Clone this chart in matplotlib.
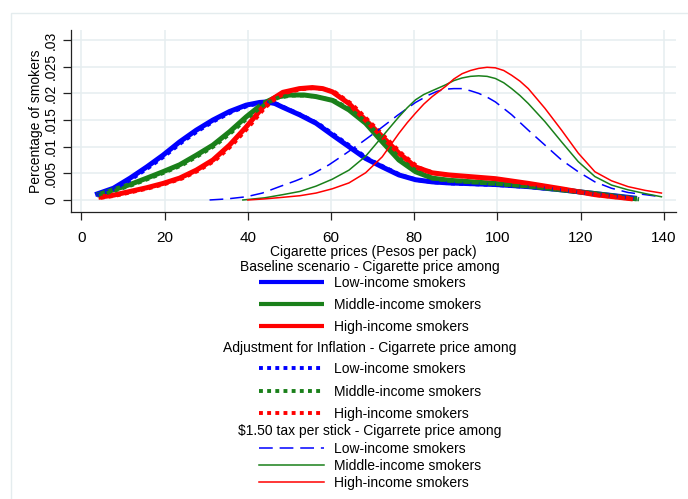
import matplotlib.pyplot as plt
from matplotlib.lines import Line2D
from matplotlib.patches import Rectangle

plt.rcParams["font.family"] = ["Liberation Sans", "DejaVu Sans"]

BLUE = "#0000ff"
GREEN = "#1a801a"
RED = "#ff0000"

# Baseline scenario
base_low_x = [3.3, 7.7, 11.7, 15.7, 19.6, 23.6, 27.6, 31.6, 35.6, 39.6, 42.8, 44.6, 46.5,
              48.4, 52.4, 56.4, 60.3, 64.3, 68.3, 72.3, 76.3, 80.3, 84.3, 88.3, 99.5,
              107.5, 115.4, 123.4, 131.4, 133.5]
base_low_y = [0.0010, 0.0022, 0.0041, 0.0062, 0.0084, 0.0109, 0.0131, 0.0150, 0.0166,
              0.0178, 0.0183, 0.0184, 0.0181, 0.0174, 0.0160, 0.0144, 0.0122, 0.0100,
              0.0078, 0.0062, 0.0047, 0.0038, 0.0034, 0.0032, 0.0029, 0.0025, 0.0019,
              0.0012, 0.0005, 0.0003]
base_mid_x = [3.7, 7.7, 11.7, 15.7, 19.6, 23.6, 27.6, 31.6, 35.6, 39.6, 43.6, 46.8, 50,
              53.5, 56.4, 60.3, 64.3, 68.3, 72.3, 76.3, 80.3, 84.3, 88.3, 99.5, 107.5,
              115.4, 123.4, 131.4, 133.5]
base_mid_y = [0.0009, 0.0019, 0.0029, 0.0041, 0.0053, 0.0066, 0.0084, 0.0103, 0.0128,
              0.0156, 0.0181, 0.0193, 0.0197, 0.0197, 0.0194, 0.0187, 0.0169, 0.0144,
              0.0109, 0.0075, 0.0053, 0.0041, 0.0037, 0.0031, 0.0026, 0.0019, 0.0012,
              0.0004, 0.0002]
base_high_x = [4.1, 7.7, 11.7, 15.7, 19.6, 23.6, 27.6, 31.6, 35.6, 39.6, 43.6, 46, 48.4,
               52.4, 55.5, 58, 60.3, 64.3, 68.3, 72.3, 76.3, 80.3, 84.3, 88.3, 99.5,
               107.5, 115.4, 123.4, 131.4, 132.5]
base_high_y = [0.0005, 0.0009, 0.0016, 0.0023, 0.0031, 0.0041, 0.0056, 0.0075, 0.0103,
               0.0137, 0.0174, 0.0190, 0.0202, 0.0209, 0.0211, 0.0209, 0.0203, 0.0181,
               0.0150, 0.0119, 0.0088, 0.0062, 0.0051, 0.0047, 0.0040, 0.0031, 0.0021,
               0.0010, 0.0003, 0.0002]

# Adjustment for inflation
infl_low_x = [3.8, 8.2, 12.2, 16.2, 20.1, 24.1, 28.1, 32.1, 36.1, 40.1, 43.3, 45.1, 47,
              49, 53, 57, 61, 65, 69, 73, 77, 81, 85, 89, 100, 108, 116, 124, 132, 134]
infl_low_y = [0.0009, 0.0021, 0.0040, 0.0061, 0.0083, 0.0108, 0.0130, 0.0149, 0.0165,
              0.0177, 0.0182, 0.0183, 0.0180, 0.0173, 0.0159, 0.0143, 0.0121, 0.0099,
              0.0077, 0.0061, 0.0046, 0.0037, 0.0033, 0.0031, 0.0028, 0.0024, 0.0018,
              0.0011, 0.0004, 0.0002]
infl_mid_x = [4.2, 8.2, 12.2, 16.2, 20.1, 24.1, 28.1, 32.1, 36.1, 40.1, 44.1, 47.3, 50.5,
              54, 57, 61, 65, 69, 73, 77, 81, 85, 89, 100, 108, 116, 124, 132, 134]
infl_mid_y = [0.0008, 0.0018, 0.0028, 0.0040, 0.0052, 0.0065, 0.0083, 0.0102, 0.0127,
              0.0155, 0.0180, 0.0192, 0.0196, 0.0196, 0.0193, 0.0186, 0.0168, 0.0143,
              0.0108, 0.0074, 0.0052, 0.0040, 0.0036, 0.0030, 0.0025, 0.0018, 0.0011,
              0.0003, 0.0001]
infl_high_x = [4.6, 8.2, 12.2, 16.2, 20.1, 24.1, 28.1, 32.1, 36.1, 40.1, 44.1, 46.5, 49,
               53, 56, 58.5, 61, 65, 69, 73, 77, 81, 85, 89, 100, 108, 116, 124, 132, 133]
infl_high_y = [0.0004, 0.0008, 0.0015, 0.0022, 0.0030, 0.0040, 0.0055, 0.0074, 0.0102,
               0.0136, 0.0173, 0.0189, 0.0201, 0.0208, 0.0210, 0.0208, 0.0202, 0.0180,
               0.0149, 0.0118, 0.0087, 0.0061, 0.0050, 0.0046, 0.0039, 0.0030, 0.0020,
               0.0009, 0.0002, 0.0001]

# $1.50 tax per stick
tax_low_x = [30.8, 35, 39.6, 43.5, 47.6, 51.5, 55.6, 59.5, 63.5, 67.5, 71.5, 76, 80.3,
             83.5, 85.5, 87.5, 89.5, 91.5, 93.5, 95.5, 97.5, 99.5, 103.4, 107.4, 111.4,
             115.4, 119.4, 123.4, 127.4, 131.4, 135.5, 139.4]
tax_low_y = [0.0000, 0.0002, 0.0006, 0.0013, 0.0025, 0.0036, 0.0049, 0.0066, 0.0087,
             0.0109, 0.0132, 0.0159, 0.0183, 0.0197, 0.0204, 0.0208, 0.0209, 0.0209,
             0.0205, 0.0200, 0.0193, 0.0184, 0.0160, 0.0131, 0.0103, 0.0075, 0.0053,
             0.0034, 0.0022, 0.0014, 0.0010, 0.0006]
tax_mid_x = [38.8, 44, 48.4, 52.5, 56.4, 60.3, 64.3, 68.3, 72.3, 76.3, 78.3, 80.3, 82.3,
             84.3, 87.5, 89.5, 91.5, 93.5, 95.5, 97.5, 99.5, 101.5, 103.4, 105.4, 107.4,
             111.4, 115.4, 119.4, 123.4, 127.4, 131.4, 135.5, 139.4]
tax_mid_y = [0.0000, 0.0004, 0.0010, 0.0016, 0.0026, 0.0039, 0.0056, 0.0082, 0.0119,
             0.0156, 0.0173, 0.0188, 0.0198, 0.0205, 0.0216, 0.0224, 0.0229, 0.0232,
             0.0233, 0.0232, 0.0228, 0.0220, 0.0209, 0.0196, 0.0181, 0.0147, 0.0109,
             0.0072, 0.0044, 0.0028, 0.0019, 0.0012, 0.0006]
tax_high_x = [40, 44, 48.4, 52.5, 56.4, 60.3, 64.3, 68.3, 72.3, 76.3, 78.3, 80.3, 82.3,
              84.3, 87.5, 89.5, 91.5, 93.5, 95.5, 97.5, 99.5, 101.5, 103.4, 105.4, 107.4,
              111.4, 115.4, 119.4, 123.4, 127.4, 131.4, 135.5, 139.4]
tax_high_y = [0.0000, 0.0002, 0.0005, 0.0008, 0.0013, 0.0021, 0.0032, 0.0051, 0.0081,
              0.0125, 0.0145, 0.0163, 0.0180, 0.0194, 0.0213, 0.0227, 0.0237, 0.0243,
              0.0247, 0.0249, 0.0248, 0.0243, 0.0234, 0.0223, 0.0209, 0.0172, 0.0131,
              0.0088, 0.0053, 0.0036, 0.0025, 0.0018, 0.0013]

groups = [
    ("Baseline scenario - Cigarette price among",
     [(base_low_x, base_low_y), (base_mid_x, base_mid_y), (base_high_x, base_high_y)]),
    ("Adjustment for Inflation - Cigarrete price among",
     [(infl_low_x, infl_low_y), (infl_mid_x, infl_mid_y), (infl_high_x, infl_high_y)]),
    ("$1.50 tax per stick - Cigarrete price among",
     [(tax_low_x, tax_low_y), (tax_mid_x, tax_mid_y), (tax_high_x, tax_high_y)]),
]
labels = ["Low-income smokers", "Middle-income smokers", "High-income smokers"]
colors = [BLUE, GREEN, RED]

solid = dict(linestyle="-", linewidth=3.6, solid_capstyle="butt")
dotted = dict(linestyle=(0, (1, 1.1)), linewidth=2.8, dash_capstyle="butt")
dashed = dict(linestyle=(0, (9, 4.5)), linewidth=1.1)
thin = dict(linestyle="-", linewidth=1.1)
group_styles = [[solid, solid, solid], [dotted, dotted, dotted], [dashed, thin, thin]]

fig = plt.figure(figsize=(6.88, 4.99), dpi=100)
fig.patches.append(Rectangle((11 / 688, -0.1), 1.2, 1.1 - 13 / 499,
                             transform=fig.transFigure, fill=False,
                             edgecolor="#e4ecee", linewidth=1))
ax = fig.add_axes([71 / 688, (499 - 211.7) / 499, 605 / 688, 181.7 / 499])

for gi, (title, series) in enumerate(groups):
    for i, (xs, ys) in enumerate(series):
        ax.plot(xs, ys, color=colors[i], **group_styles[gi][i])

ax.set_xlim(-2.5, 142.9)
ax.set_ylim(-0.0022, 0.0319)
ax.set_xticks(range(0, 141, 20))
yt = [0, 0.005, 0.01, 0.015, 0.02, 0.025, 0.03]
ax.set_yticks(yt)
ax.set_yticklabels(["0", ".005", ".01", ".015", ".02", ".025", ".03"],
                   rotation=90, va="center")
ax.tick_params(length=5.8, width=0.9, color="#222222")
ax.tick_params(axis="x", labelsize=11, pad=8)
ax.tick_params(axis="y", labelsize=10, pad=3.5)
ax.grid(True, color="#e6eef0", linewidth=1.1)
ax.set_axisbelow(True)
for s in ["top", "right"]:
    ax.spines[s].set_visible(False)
for s in ["left", "bottom"]:
    ax.spines[s].set_color("#222222")
    ax.spines[s].set_linewidth(0.9)
ax.set_xlabel("Cigarette prices (Pesos per pack)", fontsize=10, labelpad=0)
ax.set_ylabel("Percentage of smokers", fontsize=10, labelpad=0.5)

# three stacked legend blocks under the axes
legend_top = [259.5, 341, 424]
label_sp = [0.55, 0.62, 0.22]
title_sep = [2, 5, 3]
for gi, (title, _) in enumerate(groups):
    leg_handles = []
    for i in range(3):
        st = dict(group_styles[gi][i])
        if gi == 0:
            st["linewidth"] = 3.0
        leg_handles.append(Line2D([], [], color=colors[i], **st))
    leg = fig.legend(leg_handles, labels, title=title, loc="upper center",
                     bbox_to_anchor=(370 / 688, 1 - legend_top[gi] / 499),
                     frameon=False, fontsize=10, title_fontsize=10,
                     handlelength=4.7, handletextpad=0.7, labelspacing=label_sp[gi],
                     borderpad=0, borderaxespad=0)
    leg._legend_box.sep = title_sep[gi]

fig.savefig("out.png", dpi=100)
